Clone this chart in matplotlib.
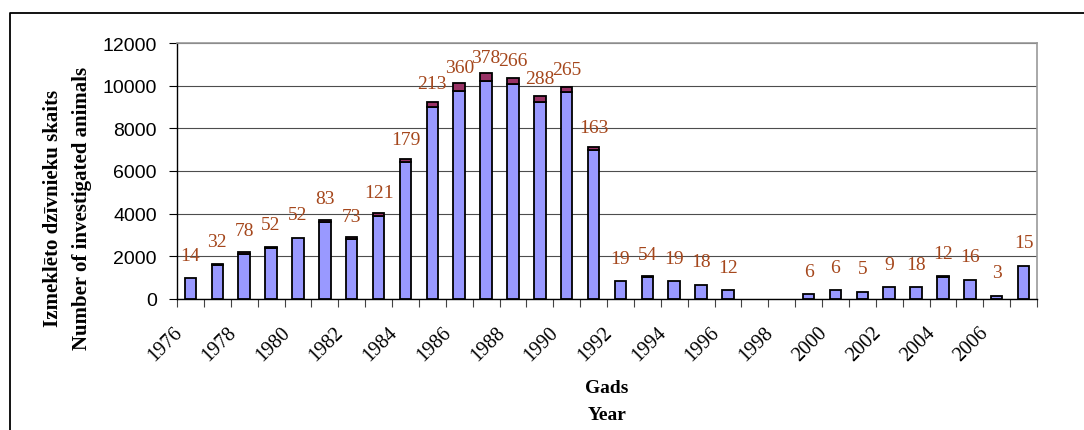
import matplotlib
matplotlib.use("Agg")
import matplotlib.pyplot as plt
import matplotlib.transforms as mtransforms
from matplotlib.lines import Line2D
import numpy as np

# ---- data ----
years = list(range(1976, 2008))
# blue part of each bar (investigated animals, negative)
negative = [980, 1610, 2120, 2400, 2880, 3620, 2810, 3900, 6400, 9010,
            9760, 10220, 10080, 9240, 9680, 6970, 830, 1010, 830, 660,
            420, 0, 0, 230, 420, 340, 560, 560, 1050, 900, 160, 1560]
# dark red part as drawn on top of the bars
positive_bar = [0, 32, 78, 52, 0, 83, 73, 121, 179, 213,
                360, 378, 266, 288, 265, 163, 0, 54, 0, 0,
                0, 0, 0, 0, 0, 0, 0, 0, 12, 0, 0, 0]
# numbers printed above the bars (positive cases)
positive_labels = [14, 32, 78, 52, 52, 83, 73, 121, 179, 213,
                   360, 378, 266, 288, 265, 163, 19, 54, 19, 18,
                   12, 0, 0, 6, 6, 5, 9, 18, 12, 16, 3, 15]
yticks = [0, 2000, 4000, 6000, 8000, 10000, 12000]
xtick_years = list(range(1976, 2008, 2))
ylabel_text = "Izmeklēto dzīvnieku skaits\nNumber of investigated animals"
xlabel_lines = ["Gads", "Year"]

W, H = 1084, 431
fig = plt.figure(figsize=(W / 100, H / 100), dpi=100)
fig.patch.set_facecolor("white")

ax = fig.add_axes([177 / W, 1 - 300 / H, (1037 - 177) / W, (300 - 44) / H])

x = np.arange(len(years))
bw = 0.43
blue = "#9999FF"
red = "#993366"
lab_col = "#A5471C"

for i in range(len(years)):
    if negative[i] > 0:
        ax.bar(x[i], negative[i], width=bw, color=blue, edgecolor="black",
               linewidth=1.3, zorder=3)
    if positive_bar[i] > 0:
        ax.bar(x[i], positive_bar[i], bottom=negative[i], width=bw, color=red,
               edgecolor="black", linewidth=1.3, zorder=3)

for i in range(len(years)):
    if positive_labels[i] > 0:
        ax.annotate(str(positive_labels[i]), (x[i], negative[i]),
                    xytext=(0, 23), textcoords="offset pixels",
                    ha="center", va="center", fontsize=14,
                    family="Liberation Serif", color=lab_col, zorder=5)

ax.set_xlim(-0.5, len(years) - 0.5)
ax.set_ylim(0, 12000)
ax.set_yticks(yticks)
ax.set_yticklabels([str(v) for v in yticks], family="Liberation Sans", fontsize=14)
ax.yaxis.grid(True, color="#4d4d4d", linewidth=0.8, zorder=0)
ax.set_axisbelow(True)
ax.tick_params(axis="y", length=5.5, width=0.8, pad=9, color="black")

# x ticks: boundaries as minor ticks, labels every other year
ax.set_xticks(np.arange(-0.5, len(years), 1.0), minor=True)
xt = [years.index(y) for y in xtick_years]
ax.set_xticks(xt)
ax.set_xticklabels([str(y) for y in xtick_years], rotation=45, ha="right",
                   va="center", rotation_mode="anchor",
                   family="Liberation Serif", fontsize=14.5)
ax.tick_params(axis="x", which="major", length=0, pad=22)
ax.tick_params(axis="x", which="minor", length=5.5, width=0.8, color="#444444")
off = mtransforms.ScaledTranslation(-11 / 100, 0, fig.dpi_scale_trans)
for lbl in ax.get_xticklabels():
    lbl.set_transform(lbl.get_transform() + off)

for s in ["left", "bottom"]:
    ax.spines[s].set_color("black")
    ax.spines[s].set_linewidth(1.0)
for s in ["right", "top"]:
    ax.spines[s].set_color("#999999")
    ax.spines[s].set_linewidth(1.2)

# axis titles
fig.text(68 / W, 1 - 208 / H, ylabel_text, rotation=90, ha="center", va="center",
         multialignment="center", family="Liberation Serif", fontweight="bold",
         fontsize=15, linespacing=1.6)
fig.text(607 / W, 1 - 389 / H, xlabel_lines[0], ha="center", va="center",
         family="Liberation Serif", fontweight="bold", fontsize=14)
fig.text(607 / W, 1 - 416 / H, xlabel_lines[1], ha="center", va="center",
         family="Liberation Serif", fontweight="bold", fontsize=14)

# outer chart frame (cut off at right and bottom)
fig.add_artist(Line2D([9.5 / W, 9.5 / W, 1.0], [0.0, 1 - 13.5 / H, 1 - 13.5 / H],
                      transform=fig.transFigure, color="black", linewidth=1.3))

fig.savefig("out.png", dpi=100)
